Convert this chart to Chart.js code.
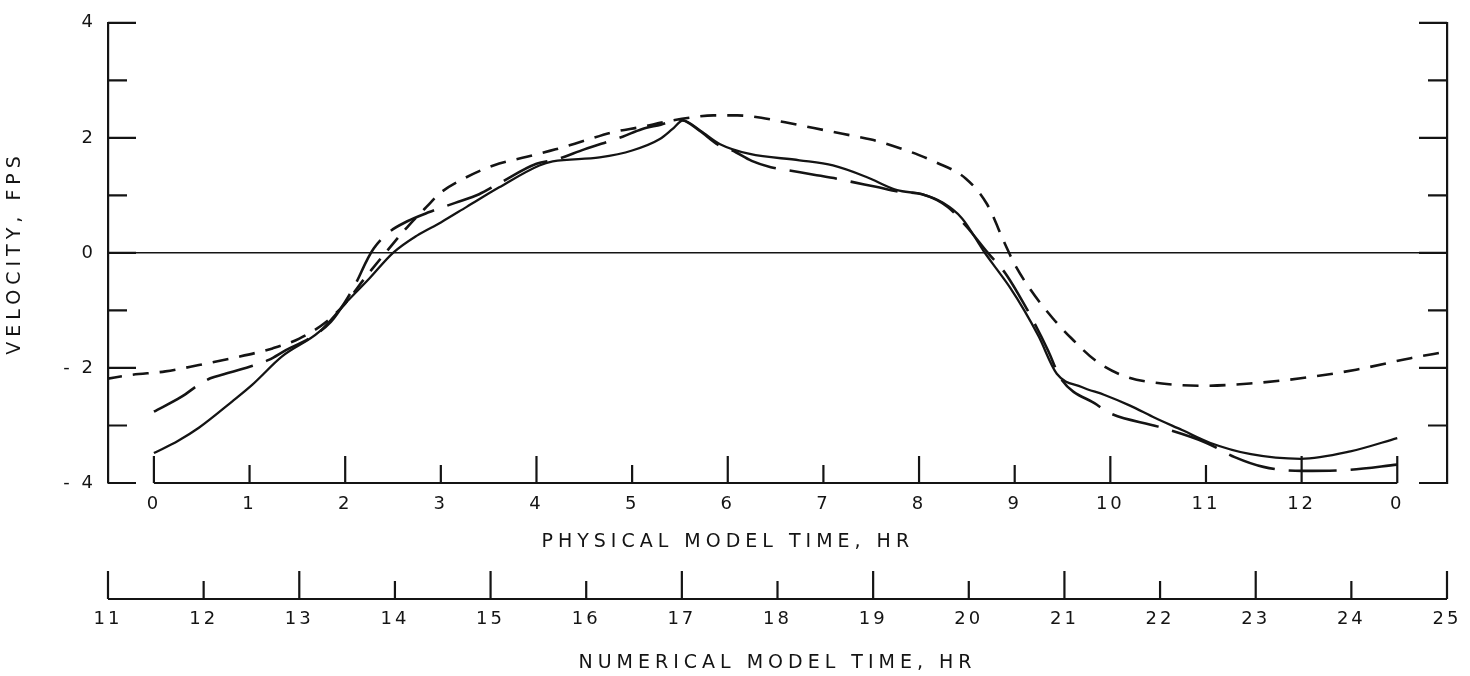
<!DOCTYPE html>
<html>
<head>
<meta charset="utf-8">
<script src="https://cdn.jsdelivr.net/npm/chart.js@4.4.1/dist/chart.umd.min.js"></script>
<style>
  html, body { margin: 0; padding: 0; background: #fff; }
  #wrap { width: 1470px; height: 676px; position: relative; }
</style>
</head>
<body>
<div id="wrap"><canvas id="velChart"></canvas></div>
<script>
// axis ticks / labels
const physTicks = [0, 1, 2, 3, 4, 5, 6, 7, 8, 9, 10, 11, 12, 13];
const physLabels = ['0', '1', '2', '3', '4', '5', '6', '7', '8', '9', '10', '11', '12', '0'];
const numTicks = [11, 12, 13, 14, 15, 16, 17, 18, 19, 20, 21, 22, 23, 24, 25];
const numLabels = ['11', '12', '13', '14', '15', '16', '17', '18', '19', '20', '21', '22', '23', '24', '25'];
const yTicks = [-4, -2, 0, 2, 4];
const yLabels = ['- 4', '- 2', '0', '2', '4'];
const yMarks = [-4, -3, -2, -1, 0, 1, 2, 3, 4];

const yTitle = 'VELOCITY, FPS';
const physTitle = 'PHYSICAL MODEL TIME, HR';
const numTitle = 'NUMERICAL MODEL TIME, HR';

// solid curve (physical model time, hr / velocity, fps)
const solidTime = [0, 0.25, 0.47, 0.82, 1.03, 1.34, 1.73, 2.0, 2.25, 2.5, 2.75, 3.0, 3.27, 3.61, 4.03, 4.17, 4.66, 5.0, 5.29, 5.42, 5.53, 5.71, 5.92, 6.23, 6.75, 7.1, 7.45, 7.77, 8.03, 8.25, 8.45, 8.68, 8.82, 8.95, 9.1, 9.25, 9.44, 9.7, 9.94, 10.2, 10.47, 10.75, 11.04, 11.47, 11.99, 12.51, 13.0];
const solidVel = [-3.48, -3.27, -3.04, -2.58, -2.29, -1.80, -1.37, -0.88, -0.45, 0.0, 0.3, 0.53, 0.8, 1.14, 1.52, 1.59, 1.66, 1.78, 1.98, 2.15, 2.30, 2.13, 1.89, 1.72, 1.61, 1.52, 1.32, 1.09, 1.02, 0.87, 0.6, 0.02, -0.3, -0.6, -1.0, -1.45, -2.1, -2.33, -2.47, -2.65, -2.87, -3.08, -3.30, -3.50, -3.58, -3.45, -3.22];

// long dash curve
const longTime = [0, 0.29, 0.47, 0.59, 0.73, 1.0, 1.2, 1.38, 1.62, 1.85, 2.0, 2.12, 2.22, 2.3, 2.45, 2.65, 2.88, 3.15, 3.4, 3.6, 4.0, 4.2, 4.5, 4.9, 5.1, 5.3, 5.5, 5.7, 5.9, 6.05, 6.25, 6.45, 6.62, 6.9, 7.17, 7.31, 7.55, 7.8, 8.03, 8.3, 8.5, 8.72, 8.9, 9.05, 9.2, 9.35, 9.48, 9.86, 10.0, 10.5, 11.0, 11.3, 11.6, 12.0, 12.5, 13.0];
const longVel = [-2.76, -2.50, -2.29, -2.18, -2.11, -1.98, -1.86, -1.69, -1.49, -1.2, -0.85, -0.5, -0.15, 0.08, 0.35, 0.55, 0.71, 0.87, 1.02, 1.2, 1.55, 1.62, 1.8, 2.02, 2.15, 2.23, 2.32, 2.13, 1.88, 1.78, 1.6, 1.49, 1.44, 1.36, 1.28, 1.23, 1.15, 1.06, 1.02, 0.8, 0.45, 0.0, -0.35, -0.75, -1.2, -1.7, -2.18, -2.64, -2.79, -3.02, -3.3, -3.55, -3.72, -3.79, -3.77, -3.68];

// short dash curve
const shortTime = [-0.5, -0.23, 0.12, 0.47, 0.82, 1.24, 1.52, 1.8, 2.0, 2.2, 2.42, 2.65, 2.85, 3.0, 3.25, 3.55, 3.9, 4.2, 4.5, 4.8, 5.1, 5.35, 5.6, 5.85, 6.1, 6.35, 6.6, 6.9, 7.2, 7.5, 7.8, 8.0, 8.17, 8.49, 8.71, 8.9, 9.0, 9.17, 9.4, 9.59, 9.86, 10.16, 10.54, 10.96, 11.46, 11.99, 12.57, 13.14, 13.5];
const shortVel = [-2.19, -2.12, -2.06, -1.95, -1.83, -1.66, -1.49, -1.2, -0.88, -0.45, 0.0, 0.45, 0.8, 1.05, 1.3, 1.52, 1.67, 1.8, 1.95, 2.1, 2.19, 2.28, 2.35, 2.39, 2.39, 2.35, 2.27, 2.17, 2.07, 1.97, 1.82, 1.70, 1.58, 1.29, 0.85, 0.15, -0.2, -0.65, -1.14, -1.48, -1.89, -2.15, -2.27, -2.31, -2.27, -2.18, -2.03, -1.83, -1.72];

const INK = '#141414';
const FONT = '"DejaVu Sans", sans-serif';

const toPoints = (ts, vs) => ts.map((t, i) => ({ x: t, y: vs[i] }));

// frame ticks drawn inward like the original drafting
const frameTicks = {
  id: 'frameTicks',
  beforeDraw(chart) {
    chart.ctx.letterSpacing = '3px';
  },
  afterDraw(chart) {
    const { ctx, chartArea: a, scales } = chart;
    const x = scales.x, x2 = scales.x2, y = scales.y;
    ctx.save();
    ctx.strokeStyle = INK;
    ctx.lineWidth = 2.2;
    ctx.beginPath();
    yMarks.forEach(v => {
      const py = y.getPixelForValue(v);
      const len = v % 2 === 0 ? 28 : 19;
      ctx.moveTo(a.left, py); ctx.lineTo(a.left + len, py);
      ctx.moveTo(a.right, py); ctx.lineTo(a.right - len, py);
    });
    ctx.moveTo(x.getPixelForValue(physTicks[0]), a.bottom);
    ctx.lineTo(x.getPixelForValue(physTicks[physTicks.length - 1]), a.bottom);
    physTicks.forEach((v, i) => {
      const px = x.getPixelForValue(v);
      const len = (v % 2 === 0 || i === physTicks.length - 1) ? 27 : 18;
      ctx.moveTo(px, a.bottom); ctx.lineTo(px, a.bottom - len);
    });
    ctx.moveTo(x2.getPixelForValue(numTicks[0]), x2.top);
    ctx.lineTo(x2.getPixelForValue(numTicks[numTicks.length - 1]), x2.top);
    numTicks.forEach(v => {
      const px = x2.getPixelForValue(v);
      const len = v % 2 === 1 ? 28 : 18;
      ctx.moveTo(px, x2.top); ctx.lineTo(px, x2.top - len);
    });
    ctx.stroke();

    // axis titles
    ctx.fillStyle = INK;
    ctx.font = '19px ' + FONT;
    ctx.letterSpacing = '5px';
    ctx.textAlign = 'center';
    ctx.textBaseline = 'middle';
    ctx.fillText(physTitle, x.getPixelForValue(6), a.bottom + 59);
    ctx.fillText(numTitle, x2.getPixelForValue(18), x2.top + 64);
    ctx.translate(15, (a.top + a.bottom) / 2);
    ctx.rotate(-Math.PI / 2);
    ctx.fillText(yTitle, 0, 0);
    ctx.restore();
  }
};

Chart.defaults.font.family = FONT;
Chart.defaults.color = INK;

new Chart(document.getElementById('velChart').getContext('2d'), {
  type: 'line',
  data: {
    datasets: [
      {
        label: 'Solid',
        data: toPoints(solidTime, solidVel),
        borderColor: INK,
        borderWidth: 2.3,
        pointRadius: 0,
        cubicInterpolationMode: 'monotone'
      },
      {
        label: 'Long dash',
        data: toPoints(longTime, longVel),
        borderColor: INK,
        borderWidth: 2.6,
        borderDash: [48, 14],
        pointRadius: 0,
        cubicInterpolationMode: 'monotone'
      },
      {
        label: 'Short dash',
        data: toPoints(shortTime, shortVel),
        borderColor: INK,
        borderWidth: 2.6,
        borderDash: [16, 11],
        pointRadius: 0,
        cubicInterpolationMode: 'monotone'
      }
    ]
  },
  options: {
    responsive: true,
    maintainAspectRatio: false,
    animation: false,
    layout: { padding: { top: 20, left: 0, right: 0, bottom: 0 } },
    plugins: {
      legend: { display: false },
      tooltip: { enabled: false }
    },
    scales: {
      x: {
        type: 'linear',
        position: 'bottom',
        weight: 0,
        min: -0.48,
        max: 13.52,
        afterBuildTicks: s => { s.ticks = physTicks.map(v => ({ value: v })); },
        afterFit: s => { s.height = 116; },
        grid: { display: false, drawTicks: false },
        border: { display: false },
        ticks: {
          autoSkip: false,
          maxRotation: 0,
          padding: 11,
          font: { size: 18 },
          callback: (v, i) => physLabels[i]
        }
      },
      x2: {
        type: 'linear',
        position: 'bottom',
        weight: 1,
        min: 11,
        max: 25,
        afterBuildTicks: s => { s.ticks = numTicks.map(v => ({ value: v })); },
        afterFit: s => { s.height = 77; },
        grid: { display: false, drawTicks: false },
        border: { display: false },
        ticks: {
          autoSkip: false,
          maxRotation: 0,
          padding: 10,
          font: { size: 18 },
          callback: (v, i) => numLabels[i]
        }
      },
      y: {
        type: 'linear',
        position: 'left',
        min: -4,
        max: 4,
        afterBuildTicks: s => { s.ticks = yTicks.map(v => ({ value: v })); },
        afterFit: s => { s.width = 108; },
        grid: {
          drawTicks: false,
          lineWidth: 1.5,
          color: c => (c.tick && c.tick.value === 0 ? INK : 'rgba(0,0,0,0)')
        },
        border: { display: true, color: INK, width: 2.2 },
        ticks: {
          padding: 12,
          font: { size: 18 },
          callback: (v, i) => yLabels[i]
        }
      },
      yr: {
        type: 'linear',
        position: 'right',
        min: -4,
        max: 4,
        afterFit: s => { s.width = 23; },
        grid: { display: false, drawTicks: false },
        border: { display: true, color: INK, width: 2.2 },
        ticks: { display: false }
      }
    }
  },
  plugins: [frameTicks]
});
</script>
</body>
</html>
